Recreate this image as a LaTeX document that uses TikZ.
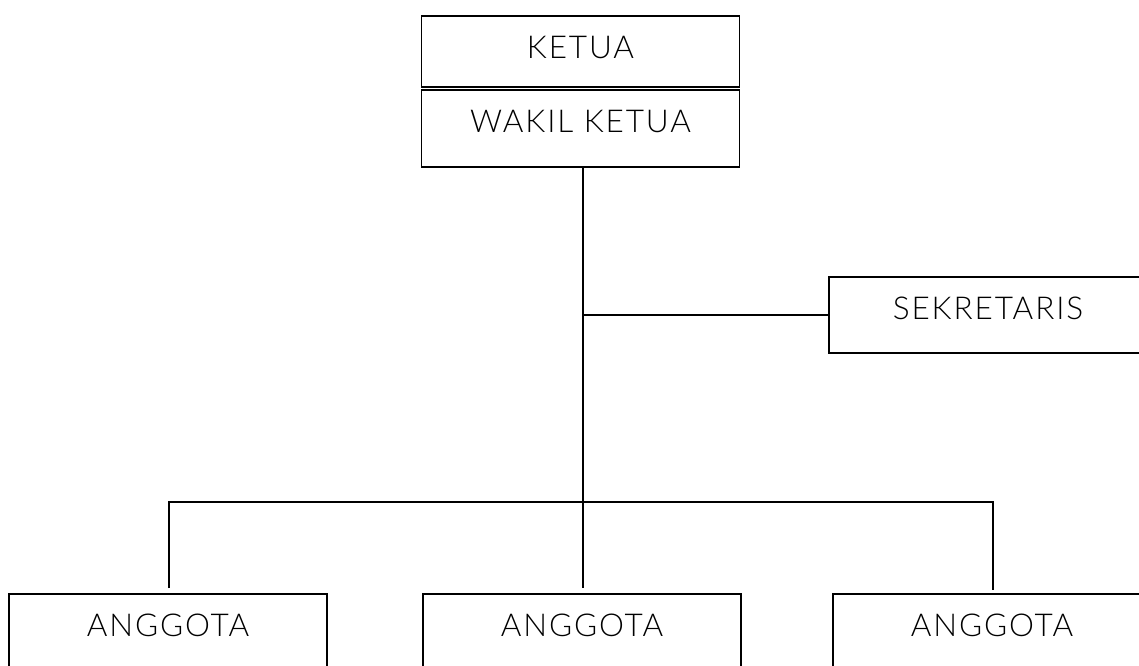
\documentclass[tikz,border=0pt]{standalone}
\usepackage{fontspec}
\setmainfont{Lato}[UprightFont={* Light},LetterSpace=6]
\usetikzlibrary{calc}
\begin{document}
\begin{tikzpicture}[x=1pt,y=-1pt,
  box/.style={draw=black,line width=1.5pt,rectangle,inner sep=0pt,minimum width=318pt,
    text height=43pt,font=\fontsize{31.5}{36}\selectfont,anchor=north},
  conn/.style={draw=black,line width=1.5pt}]
\useasboundingbox (0,0) rectangle (1139,665);
\clip (0,0) rectangle (1139,665);
\node[box,text depth=28pt] (ketua) at (580.5,15) {KETUA};
\node[box,text depth=34pt] (wakil) at (580.5,89) {WAKIL KETUA};
\node[box,text depth=33pt] (sek) at (988,276) {SEKRETARIS};
\node[box,text depth=34pt] (a1) at (168,593) {ANGGOTA};
\node[box,text depth=34pt] (a2) at (582,593) {ANGGOTA};
\node[box,text depth=34pt] (a3) at (992,593) {ANGGOTA};
\coordinate (hb) at (583,502);
\draw[conn] ([xshift=2.5pt]wakil.south) -- ([xshift=1pt,yshift=5pt]a2.north);
\draw[conn] ([xshift=2.5pt]wakil.south |- sek.west) -- (sek.west);
\draw[conn] ([xshift=1pt,yshift=5pt]a1.north) |- (hb) -| ([xshift=1pt,yshift=3pt]a3.north);
\end{tikzpicture}
\end{document}
